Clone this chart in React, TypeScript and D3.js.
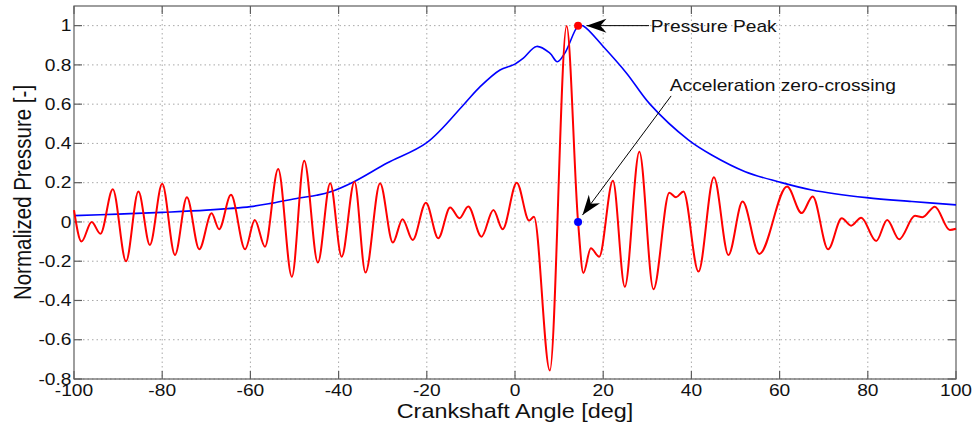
import React from "react";
import * as d3 from "d3";

// ---- data ----
const redAngle = [-100, -98.3, -96.0, -94.0, -91.2, -88.2, -85.4, -82.8, -80.0, -77.1, -74.4, -71.6, -68.8, -67.1, -64.4, -61.2, -59.0, -56.7, -53.7, -50.6, -47.8, -44.7, -41.9, -39.3, -36.4, -33.9, -30.6, -27.7, -25.5, -23.2, -20.2, -17.4, -14.7, -12.6, -10.6, -7.6, -4.9, -2.8, 0.4, 3.2, 4.3, 7.9, 11.7, 14.3, 15.5, 17.2, 19.1, 22.2, 24.9, 28.2, 31.4, 35.0, 36.5, 38.2, 41.6, 45.1, 48.4, 51.6, 55.4, 61.7, 65.0, 67.5, 71.0, 74.1, 76.2, 78.5, 81.9, 84.4, 87.1, 90.7, 92.4, 95.2, 98.6, 100];
const redValue = [0.06, -0.10, 0.0, -0.06, 0.167, -0.20, 0.155, -0.117, 0.194, -0.168, 0.126, -0.139, 0.044, -0.037, 0.138, -0.139, 0.01, -0.126, 0.27, -0.279, 0.312, -0.207, 0.197, -0.177, 0.205, -0.258, 0.197, -0.105, 0.014, -0.092, 0.098, -0.083, 0.074, 0.019, 0.079, -0.075, 0.061, -0.037, 0.2, 0.007, 0.027, -0.757, 0.998, 0.0, -0.26, -0.134, -0.177, 0.21, -0.33, 0.358, -0.343, 0.149, 0.126, 0.155, -0.253, 0.228, -0.168, 0.104, -0.163, 0.18, 0.045, 0.13, -0.139, 0.019, -0.019, 0.022, -0.097, 0.01, -0.088, 0.031, 0.024, 0.078, -0.041, -0.035];

const blueAngle = [-100, -90, -80, -70, -60, -55, -49, -45, -42, -36.5, -29, -20, -11.7, -7.9, -3.4, -0.4, 1.9, 4.9, 7.9, 9.6, 11.3, 14.4, 15.5, 20.0, 25.3, 30.6, 39.3, 44.6, 52.2, 59.7, 67.3, 79.7, 90, 100];
const blueValue = [0.032, 0.040, 0.049, 0.060, 0.078, 0.096, 0.122, 0.136, 0.152, 0.205, 0.30, 0.404, 0.596, 0.689, 0.774, 0.80, 0.835, 0.894, 0.86, 0.816, 0.86, 1.0, 0.998, 0.894, 0.758, 0.60, 0.418, 0.341, 0.256, 0.205, 0.163, 0.124, 0.104, 0.087];

const xTicks = [-100, -80, -60, -40, -20, 0, 20, 40, 60, 80, 100];
const yTicks = [-0.8, -0.6, -0.4, -0.2, 0, 0.2, 0.4, 0.6, 0.8, 1];
const yTickLabels = ["-0.8", "-0.6", "-0.4", "-0.2", "0", "0.2", "0.4", "0.6", "0.8", "1"];

const peakMarker = { angle: 14.3, value: 1.0 };
const zeroMarker = { angle: 14.3, value: 0.0 };

const annoPeak = { text: "Pressure Peak", tx: 30.8, ty: 0.968, fromX: 30.4, fromY: 1.0, toX: 16.2, toY: 1.0 };
const annoZero = { text: "Acceleration zero-crossing", tx: 35.1, ty: 0.667, fromX: 35.4, fromY: 0.642, toX: 15.3, toY: 0.035 };

const xLabel = "Crankshaft Angle [deg]";
const yLabel = "Normalized Pressure [-]";

// ---- layout ----
const W = 975, H = 424;
const L = 74, R = 956, T = 6, B = 379;
const FONT = "'Liberation Sans', Arial, Helvetica, sans-serif";

function arrowHead(x1: number, y1: number, x2: number, y2: number) {
  const ang = Math.atan2(y2 - y1, x2 - x1);
  const len = 20, half = 7, notch = 14;
  const c = Math.cos(ang), s = Math.sin(ang);
  const bx = x2 - c * len, by = y2 - s * len;
  const p1 = [bx - s * half, by + c * half];
  const p2 = [bx + s * half, by - c * half];
  const n = [x2 - c * notch, y2 - s * notch];
  return `M${x2},${y2}L${p1[0]},${p1[1]}L${n[0]},${n[1]}L${p2[0]},${p2[1]}Z`;
}

export default function App() {
  const x = d3.scaleLinear().domain([-100, 100]).range([L, R]);
  const y = d3.scaleLinear().domain([-0.8, 1.1]).range([B, T]);

  const redLine = d3.line<[number, number]>()
    .x((d) => x(d[0]))
    .y((d) => y(d[1]))
    .curve(d3.curveMonotoneX);
  const blueLine = d3.line<[number, number]>()
    .x((d) => x(d[0]))
    .y((d) => y(d[1]))
    .curve(d3.curveCatmullRom.alpha(0.5));

  const redPts: [number, number][] = redAngle.map((a, i) => [a, redValue[i]]);
  const bluePts: [number, number][] = blueAngle.map((a, i) => [a, blueValue[i]]);

  const axisColor = "#5e5e5e";
  const gridColor = "#a8a8a8";
  const tickLen = 8;

  const annos = [annoPeak, annoZero];

  return (
    <svg width={W} height={H} style={{ position: "absolute", left: 0, top: 0, background: "#fff" }} fontFamily={FONT}>
      <rect x={0} y={0} width={W} height={H} fill="#fff" />
      {/* grid */}
      {xTicks.filter((t) => t > -100 && t < 100).map((t) => (
        <line key={"gx" + t} x1={x(t)} x2={x(t)} y1={T} y2={B} stroke={gridColor} strokeWidth={1} strokeDasharray="1.5,3" />
      ))}
      {yTicks.map((t) => (
        <line key={"gy" + t} x1={L} x2={R} y1={y(t)} y2={y(t)} stroke={gridColor} strokeWidth={1} strokeDasharray="1.5,3" />
      ))}
      {/* box */}
      <rect x={L} y={T} width={R - L} height={B - T} fill="none" stroke={axisColor} strokeWidth={1.2} />
      {/* ticks (inward, all sides) */}
      {xTicks.map((t) => (
        <g key={"tx" + t}>
          <line x1={x(t)} x2={x(t)} y1={B} y2={B - tickLen} stroke={axisColor} strokeWidth={1.2} />
          <line x1={x(t)} x2={x(t)} y1={T} y2={T + tickLen} stroke={axisColor} strokeWidth={1.2} />
        </g>
      ))}
      {yTicks.map((t) => (
        <g key={"ty" + t}>
          <line x1={L} x2={L + tickLen} y1={y(t)} y2={y(t)} stroke={axisColor} strokeWidth={1.2} />
          <line x1={R} x2={R - tickLen} y1={y(t)} y2={y(t)} stroke={axisColor} strokeWidth={1.2} />
        </g>
      ))}
      {/* tick labels */}
      {xTicks.map((t) => (
        <text key={"lx" + t} transform={`translate(${x(t)},396) scale(1.2,1)`} textAnchor="middle" fontSize={16} fill="#111">
          {String(t)}
        </text>
      ))}
      {yTicks.map((t, i) => (
        <text key={"ly" + t} transform={`translate(71.5,${y(t) + 5.7}) scale(1.2,1)`} textAnchor="end" fontSize={16} fill="#111">
          {yTickLabels[i]}
        </text>
      ))}
      {/* axis labels */}
      <text transform={`translate(${(L + R) / 2},418) scale(1.17,1)`} textAnchor="middle" fontSize={20} fill="#111">
        {xLabel}
      </text>
      <text transform={`translate(31,${(T + B) / 2}) scale(1.2,1) rotate(-90)`} textAnchor="middle" fontSize={20.5} fill="#111">
        {yLabel}
      </text>
      {/* series */}
      <path d={blueLine(bluePts) || ""} fill="none" stroke="#0000ff" strokeWidth={1.6} />
      <path d={redLine(redPts) || ""} fill="none" stroke="#ff0000" strokeWidth={2} />
      {/* markers */}
      <circle cx={x(peakMarker.angle)} cy={y(peakMarker.value)} r={4} fill="#ff0000" />
      <circle cx={x(zeroMarker.angle)} cy={y(zeroMarker.value)} r={4} fill="#0000ff" />
      {/* annotations */}
      {annos.map((a) => (
        <g key={a.text}>
          <line x1={x(a.fromX)} y1={y(a.fromY)} x2={x(a.toX)} y2={y(a.toY)} stroke="#000" strokeWidth={1} />
          <path d={arrowHead(x(a.fromX), y(a.fromY), x(a.toX), y(a.toY))} fill="#000" />
          <text transform={`translate(${x(a.tx)},${y(a.ty)}) scale(1.2,1)`} fontSize={16} fill="#111">
            {a.text}
          </text>
        </g>
      ))}
    </svg>
  );
}
